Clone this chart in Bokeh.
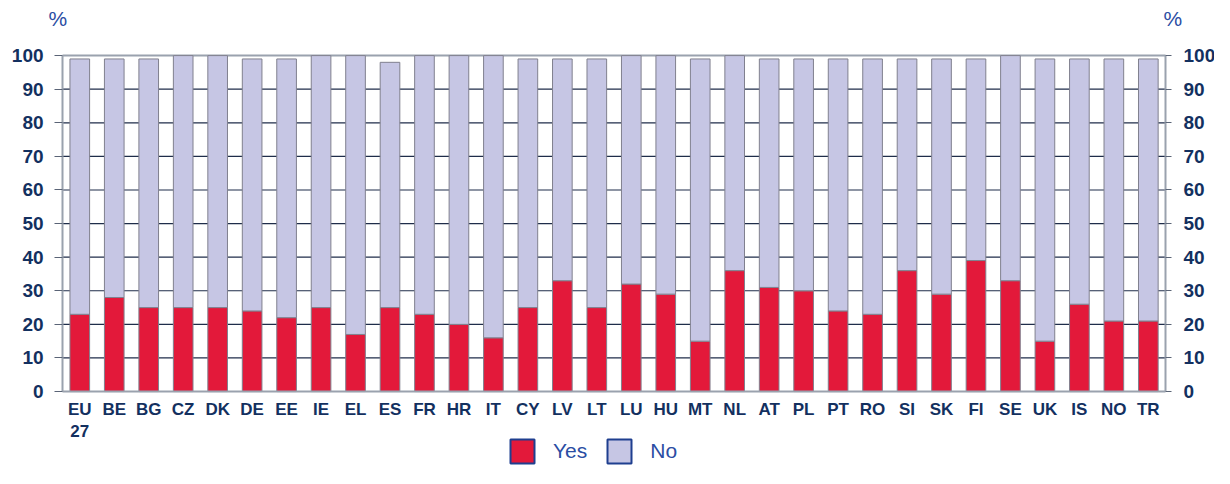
from bokeh.plotting import figure
from bokeh.models import (ColumnDataSource, Range1d, LinearAxis, FixedTicker,
                          Legend, LegendItem, Label)
from bokeh.embed import file_html
from bokeh.resources import INLINE

countries = ["EU\n27", "BE", "BG", "CZ", "DK", "DE", "EE", "IE", "EL", "ES", "FR", "HR", "IT", "CY",
             "LV", "LT", "LU", "HU", "MT", "NL", "AT", "PL", "PT", "RO", "SI", "SK", "FI", "SE",
             "UK", "IS", "NO", "TR"]
yes = [23, 28, 25, 25, 25, 24, 22, 25, 17, 25, 23, 20, 16, 25,
       33, 25, 32, 29, 15, 36, 31, 30, 24, 23, 36, 29, 39, 33,
       15, 26, 21, 21]
no = [76, 71, 74, 75, 75, 75, 77, 75, 83, 73, 77, 80, 84, 74,
      66, 74, 68, 71, 84, 64, 68, 69, 75, 76, 63, 70, 60, 67,
      84, 73, 78, 78]
y_ticks = [0, 10, 20, 30, 40, 50, 60, 70, 80, 90, 100]
series = ["Yes", "No"]
unit_label = "%"

RED = "#E3193A"
LAV = "#C6C6E4"
NAVY = "#13305F"
BLUE = "#2B4DA3"
GRAY = "#9AA2AE"

n = len(countries)
idx = list(range(n))
source = ColumnDataSource(dict(x=idx, Yes=yes, No=no))

# frame covers the whole figure; axes are pinned inside it
p = figure(width=1214, height=468, x_range=Range1d(-2.3, 32.92), y_range=Range1d(-22.9, 116.4),
           output_backend="svg", toolbar_location=None, min_border=0)
p.outline_line_color = None
p.xgrid.grid_line_color = None
p.ygrid.grid_line_color = None
p.background_fill_color = "white"
p.border_fill_color = "white"

# horizontal reference lines (drawn behind bars)
inner = y_ticks[1:-1]
p.segment(x0=[-0.5] * len(inner), x1=[n - 0.5] * len(inner), y0=inner, y1=inner,
          line_color="#1F2D4A", line_width=1.2)
p.segment(x0=[-0.5], x1=[n - 0.5], y0=[y_ticks[-1]], y1=[y_ticks[-1]],
          line_color=GRAY, line_width=2)

rs = p.vbar_stack(series, x="x", width=0.57, color=[RED, LAV],
                  line_color="#80808E", line_width=1, source=source)


def style_y(ax, tick_out, standoff, loc):
    ax.ticker = FixedTicker(ticks=y_ticks)
    ax.fixed_location = loc
    ax.bounds = (y_ticks[0], y_ticks[-1])
    ax.major_tick_out = tick_out
    ax.major_tick_in = 0
    ax.minor_tick_out = 0
    ax.minor_tick_in = 0
    ax.major_label_standoff = standoff
    ax.axis_line_color = GRAY
    ax.axis_line_width = 2
    ax.major_tick_line_color = "#5A6476"
    ax.major_label_text_font = "Liberation Sans"
    ax.major_label_text_font_style = "bold"
    ax.major_label_text_font_size = "19px"
    ax.major_label_text_color = NAVY


style_y(p.yaxis[0], 8, 11, -0.5)
right = LinearAxis()
style_y(right, 6, 12, n - 0.5)
p.add_layout(right, "right")

xa = p.xaxis[0]
xa.ticker = FixedTicker(ticks=idx)
xa.major_label_overrides = {i: c for i, c in zip(idx, countries)}
xa.fixed_location = 0
xa.bounds = (-0.5, n - 0.5)
xa.major_tick_out = 0
xa.major_tick_in = 0
xa.minor_tick_out = 0
xa.minor_tick_in = 0
xa.major_label_standoff = 8
xa.axis_line_color = GRAY
xa.axis_line_width = 2
xa.major_label_text_font = "Liberation Sans"
xa.major_label_text_font_style = "bold"
xa.major_label_text_font_size = "17px"
xa.major_label_text_color = NAVY

# "%" unit labels
for xs in (48, 1163):
    p.add_layout(Label(x=xs, y=450, x_units="screen", y_units="screen", text=unit_label,
                       text_font="Liberation Sans", text_font_size="21px", text_color=BLUE,
                       text_baseline="middle", text_align="left"))

# Yes / No legend (swatch-only renderers, hidden from the plot area)
swatch = ColumnDataSource(dict(x=idx[:1], top=yes[:1]))
ly = p.vbar(x="x", top="top", width=0.5, source=swatch, fill_color=RED,
            line_color="#1F3F8F", line_width=2, visible=False)
ln = p.vbar(x="x", top="top", width=0.5, source=swatch, fill_color=LAV,
            line_color="#1F3F8F", line_width=2, visible=False)
legend = Legend(items=[LegendItem(label=series[0], renderers=[ly]),
                       LegendItem(label=series[1], renderers=[ln])],
                location=(507, 2), orientation="horizontal", glyph_width=30, glyph_height=30,
                label_standoff=16, spacing=17, padding=0, margin=0,
                border_line_color=None, background_fill_alpha=0,
                label_text_font="Liberation Sans", label_text_font_size="21px",
                label_text_color=BLUE)
p.add_layout(legend, "center")

open("out.html", "w").write(file_html(p, INLINE))
